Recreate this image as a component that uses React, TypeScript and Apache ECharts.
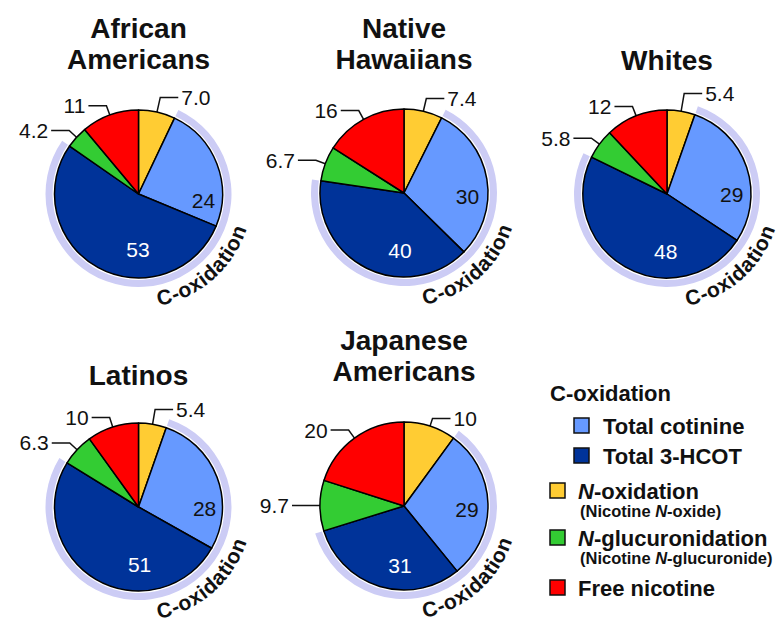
import React, { useEffect, useRef } from 'react';
import * as echarts from 'echarts';

// ---- data ----
const groups = ['African\nAmericans', 'Native\nHawaiians', 'Whites', 'Latinos', 'Japanese\nAmericans'];
const categories = ['N-oxidation', 'Total cotinine', 'Total 3-HCOT', 'N-glucuronidation', 'Free nicotine'];
const nOxide = [7.0, 7.4, 5.4, 5.4, 10];
const totalCotinine = [24, 30, 29, 28, 29];
const total3HCOT = [53, 40, 48, 51, 31];
const nGlucuronide = [4.2, 6.7, 5.8, 6.3, 9.7];
const freeNicotine = [11, 16, 12, 10, 20];

// ---- style / layout ----
const COLORS = ['#FFCC33', '#6699FF', '#003399', '#33CC33', '#FF0000'];
const LAVENDER = '#CCCCF5';
const FONT = '"Liberation Sans", Arial, Helvetica, sans-serif';
const CENTERS: number[][] = [[138.5, 194], [404, 193], [667, 194], [138.5, 507], [404, 506]];
const RADIUS = 84;
const TITLE_BOTTOM = [75, 75, 76, 391, 387];
const COT_NUDGE = [[23, 23], [19, 11], [22, 15], [24, 17], [18, 5]];
const HCOT_NUDGE = [[21, 16], [16, 17], [21, 18], [24, 19], [9, 16]];
const YELLOW_LEADER = [15, 13, 18, 15, 8];
const CURVE_R = 106;
const CURVE_START_DEG = 80;
const CURVE_FONT = 21;

const fmt = (v: number) => (v < 10 ? v.toFixed(1) : String(Math.round(v)));

function buildOption() {
  const series: any[] = [];
  const graphic: any[] = [];

  const ctx = document.createElement('canvas').getContext('2d')!;
  ctx.font = `bold ${CURVE_FONT}px ${FONT}`;
  const curveText = 'C-oxidation';

  groups.forEach((g, i) => {
    const vals = [nOxide[i], totalCotinine[i], total3HCOT[i], nGlucuronide[i], freeNicotine[i]];
    const center = CENTERS[i];
    // lavender C-oxidation band
    series.push({
      type: 'pie',
      center,
      radius: [RADIUS + 2, RADIUS + 9],
      startAngle: 90,
      silent: true,
      emphasis: { disabled: true },
      label: { show: false },
      labelLine: { show: false },
      data: [
        { value: nOxide[i], itemStyle: { color: 'rgba(0,0,0,0)' } },
        { value: totalCotinine[i] + total3HCOT[i], itemStyle: { color: LAVENDER } },
        { value: nGlucuronide[i] + freeNicotine[i], itemStyle: { color: 'rgba(0,0,0,0)' } },
      ],
    });
    // main pie
    series.push({
      type: 'pie',
      center,
      radius: RADIUS,
      startAngle: 90,
      clockwise: true,
      avoidLabelOverlap: false,
      silent: true,
      emphasis: { disabled: true },
      itemStyle: { borderColor: '#000', borderWidth: 1.5 },
      label: {
        show: true,
        position: 'outside',
        fontFamily: FONT,
        fontSize: 21,
        color: '#111',
        distanceToLabelLine: 3,
        formatter: (p: any) => fmt(p.value),
      },
      labelLine: { show: true, length: 10, length2: 18, smooth: false, lineStyle: { color: '#111', width: 1.5 } },
      labelLayout: (p: any) => {
        if (p.dataIndex === 1) return { dx: COT_NUDGE[i][0], dy: COT_NUDGE[i][1] };
        if (p.dataIndex === 2) return { dx: HCOT_NUDGE[i][0], dy: HCOT_NUDGE[i][1] };
        return {};
      },
      data: categories.map((name, k) => {
        const item: any = { name, value: vals[k], itemStyle: { color: COLORS[k] } };
        if (k === 0) {
          item.labelLine = { length: YELLOW_LEADER[i], length2: 18 };
        } else if (k === 1) {
          item.label = { position: 'inside', color: '#111' };
          item.labelLine = { show: false };
        } else if (k === 2) {
          item.label = { position: 'inside', color: '#fff' };
          item.labelLine = { show: false };
        }
        return item;
      }),
    });
    // title
    graphic.push({
      type: 'text',
      x: center[0],
      y: TITLE_BOTTOM[i],
      silent: true,
      style: {
        text: g,
        fontFamily: FONT,
        fontSize: 28,
        fontWeight: 'bold',
        lineHeight: 31,
        fill: '#111',
        align: 'center',
        verticalAlign: 'bottom',
        textAlign: 'center',
        textVerticalAlign: 'bottom',
      },
    });
    // curved "C-oxidation"
    let acc = 0;
    for (const ch of curveText) {
      const w = ctx.measureText(ch).width;
      const phi = (CURVE_START_DEG * Math.PI) / 180 - (acc + w / 2) / CURVE_R;
      acc += w;
      graphic.push({
        type: 'text',
        x: center[0] + CURVE_R * Math.cos(phi),
        y: center[1] + CURVE_R * Math.sin(phi),
        rotation: Math.PI / 2 - phi,
        silent: true,
        style: {
          text: ch,
          fontFamily: FONT,
          fontSize: CURVE_FONT,
          fontWeight: 'bold',
          fill: '#111',
          lineHeight: CURVE_FONT,
          align: 'center',
          verticalAlign: 'middle',
          textAlign: 'center',
          textVerticalAlign: 'middle',
        },
      });
    }
  });

  // legend
  const sq = (x: number, y: number, color: string) => ({
    type: 'rect',
    shape: { x, y, width: 15, height: 15 },
    silent: true,
    style: { fill: color, stroke: '#111', lineWidth: 1.5 },
  });
  const txt = (x: number, y: number, text: string, size: number) => ({
    type: 'text',
    x,
    y,
    silent: true,
    style: {
      text,
      fontFamily: FONT,
      fontSize: size,
      fontWeight: 'bold',
      fill: '#111',
      align: 'left',
      verticalAlign: 'middle',
      textAlign: 'left',
      textVerticalAlign: 'middle',
      rich: {
        i: { fontFamily: FONT, fontSize: size, fontWeight: 'bold', fontStyle: 'italic', fill: '#111' },
        b: { fontFamily: FONT, fontSize: size, fontWeight: 'bold', fill: '#111' },
      },
    },
  });
  graphic.push(txt(550, 393, 'C-oxidation', 22));
  graphic.push(sq(574, 418, COLORS[1]));
  graphic.push(txt(603, 426, categories[1], 22));
  graphic.push(sq(574, 448, COLORS[2]));
  graphic.push(txt(603, 456, categories[2], 22));
  graphic.push(sq(550, 483, COLORS[0]));
  graphic.push(txt(578, 491, '{i|N}{b|-oxidation}', 22));
  graphic.push(txt(580, 511, '{b|(Nicotine }{i|N}{b|-oxide)}', 16.5));
  graphic.push(sq(550, 530, COLORS[3]));
  graphic.push(txt(578, 538, '{i|N}{b|-glucuronidation}', 22));
  graphic.push(txt(580, 558, '{b|(Nicotine }{i|N}{b|-glucuronide)}', 16.5));
  graphic.push(sq(550, 580, COLORS[4]));
  graphic.push(txt(578, 588, categories[4], 22));

  return {
    animation: false,
    backgroundColor: '#fff',
    series,
    graphic: { elements: graphic },
  };
}

export default function App() {
  const ref = useRef<HTMLDivElement>(null);
  useEffect(() => {
    if (!ref.current) return;
    const chart = echarts.init(ref.current, undefined, { renderer: 'svg' });
    chart.setOption(buildOption() as any);
    return () => chart.dispose();
  }, []);
  return (
    <div
      ref={ref}
      style={{ position: 'fixed', left: 0, top: 0, width: 780, height: 622, background: '#fff' }}
    />
  );
}
